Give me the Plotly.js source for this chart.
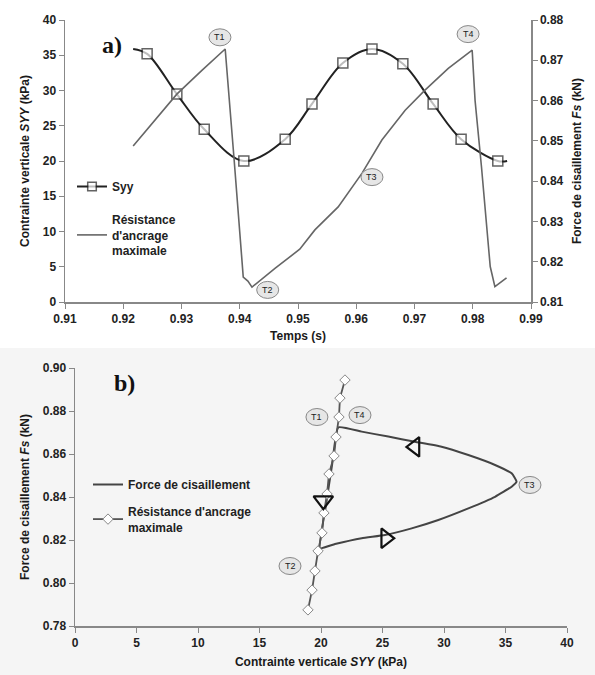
<!DOCTYPE html>
<html><head><meta charset="utf-8">
<script src="https://cdn.plot.ly/plotly-3.0.1.min.js"></script>
<style>html,body{margin:0;padding:0;background:#fff}#c{width:595px;height:675px}</style>
</head><body><div id="c"></div>
<script>
// ---- Chart a) : time series ----
const syyTime = [0.9217, 0.9241, 0.9292, 0.9339, 0.9407, 0.9478, 0.9524, 0.9577, 0.9627, 0.9680, 0.9732, 0.9780, 0.9843, 0.9859];
const syyValues = [35.9, 35.2, 29.5, 24.5, 20.0, 23.1, 28.1, 33.9, 35.9, 33.8, 28.1, 23.1, 20.0, 20.0];

const resTime = [0.9217, 0.9255, 0.9292, 0.9335, 0.9375, 0.9390, 0.9406, 0.9414, 0.9421, 0.9461, 0.9503, 0.9529, 0.9569, 0.9610, 0.9644, 0.9684, 0.9718, 0.9758, 0.9799, 0.9804, 0.9815, 0.9830, 0.9838, 0.9858];
const resValues = [0.8487, 0.8553, 0.8616, 0.8675, 0.8728, 0.8460, 0.8162, 0.8152, 0.8137, 0.8184, 0.8231, 0.8279, 0.8336, 0.8420, 0.8502, 0.8576, 0.8626, 0.8680, 0.8725, 0.8600, 0.8435, 0.8188, 0.8138, 0.8160];

// ---- Chart b) : Fs vs Syy ----
const loopSyy = [21.41, 20.90, 20.40, 19.92, 21.14, 23.31, 25.20, 27.37, 29.54, 31.98, 34.15, 35.50, 35.90, 35.50, 34.15, 31.98, 29.80, 27.64, 25.47, 23.31, 21.41];
const loopFs  = [0.8724, 0.8550, 0.8360, 0.8162, 0.8181, 0.8208, 0.8223, 0.8254, 0.8293, 0.8347, 0.8401, 0.8448, 0.8471, 0.8510, 0.8549, 0.8595, 0.8634, 0.8657, 0.8681, 0.8704, 0.8724];

const ancSyy = [21.95, 21.54, 21.46, 21.22, 21.06, 20.65, 20.49, 20.24, 20.08, 19.76, 19.51, 19.27, 18.94];
const ancFs  = [0.8944, 0.8860, 0.8772, 0.8679, 0.8591, 0.8507, 0.8414, 0.8326, 0.8233, 0.8149, 0.8056, 0.7967, 0.7875];

const arrowSyy = [27.64, 25.26, 20.19];
const arrowFs = [0.8633, 0.8208, 0.8383];
const arrowSymbols = ['triangle-left-open', 'triangle-right-open', 'triangle-down-open'];

const labelsA = [['T1', 0.9366, 0.8757], ['T2', 0.9448, 0.8130], ['T3', 0.9627, 0.8410], ['T4', 0.9792, 0.8765]];
const labelsB = [['T1', 19.67, 0.8772], ['T4', 23.17, 0.8781], ['T3', 36.99, 0.8456], ['T2', 17.48, 0.8079]];

// ---- Tick labels ----
const timeTicks = ['0.91', '0.92', '0.93', '0.94', '0.95', '0.96', '0.97', '0.98', '0.99'];
const syyTicksA = ['0', '5', '10', '15', '20', '25', '30', '35', '40'];
const fsTicksA = ['0.81', '0.82', '0.83', '0.84', '0.85', '0.86', '0.87', '0.88'];
const syyTicksB = ['0', '5', '10', '15', '20', '25', '30', '35', '40'];
const fsTicksB = ['0.78', '0.80', '0.82', '0.84', '0.86', '0.88', '0.90'];

const F = 'Liberation Sans';
const tickF = {family: F, size: 12, color: '#222'};
const titleF = {family: F, size: 12, color: '#1a1a1a'};
const bold = a => a.map(s => '<b>' + s + '</b>');
const nums = a => a.map(Number);

const syySizes = syyTime.map((_, i) => (i === 0 || i === syyTime.length - 1) ? 0 : 10);

const traces = [
  {x: syyTime, y: syyValues, xaxis: 'x', yaxis: 'y', type: 'scatter', mode: 'lines+markers',
   name: '<b>Syy</b>', legend: 'legend', legendgroup: 'a1',
   line: {color: '#222', width: 2, shape: 'spline', smoothing: 1},
   marker: {symbol: 'square', size: syySizes, color: '#fff', line: {color: '#222', width: 1.5}}},
  {x: resTime, y: resValues, xaxis: 'x', yaxis: 'y2', type: 'scatter', mode: 'lines',
   name: "<b>Résistance<br>d'ancrage<br>maximale</b>", legend: 'legend', legendgroup: 'a2',
   line: {color: '#666', width: 1.6}},
  {x: loopSyy, y: loopFs, xaxis: 'x3', yaxis: 'y3', type: 'scatter', mode: 'lines',
   name: '<b>Force de cisaillement</b>', legend: 'legend2', legendgroup: 'b1',
   line: {color: '#444', width: 2, shape: 'spline', smoothing: 0.4}},
  {x: ancSyy, y: ancFs, xaxis: 'x3', yaxis: 'y3', type: 'scatter', mode: 'lines+markers',
   name: "<b>Résistance d'ancrage<br>maximale</b>", legend: 'legend2', legendgroup: 'b2',
   line: {color: '#555', width: 1.8},
   marker: {symbol: 'diamond', size: 8, color: '#fff', line: {color: '#888', width: 1}}},
  {x: arrowSyy, y: arrowFs, xaxis: 'x3', yaxis: 'y3', type: 'scatter', mode: 'markers',
   showlegend: false, hoverinfo: 'skip',
   marker: {symbol: arrowSymbols, size: 17, color: '#111', line: {color: '#111', width: 2.2}}}
];

const shapes = [
  {type: 'rect', xref: 'paper', yref: 'paper', x0: 0, x1: 1, y0: 0, y1: 1 - 348/675,
   fillcolor: '#f5f5f5', line: {width: 0}, layer: 'below'}
];
const annotations = [
  {xref: 'paper', yref: 'paper', x: 100/595, y: 1 - 30/675, text: '<b>a)</b>', showarrow: false,
   font: {family: 'Liberation Serif, Times New Roman, serif', size: 24, color: '#111'}},
  {xref: 'paper', yref: 'paper', x: 112/595, y: 1 - 383/675, text: '<b>b)</b>', showarrow: false,
   font: {family: 'Liberation Serif, Times New Roman, serif', size: 24, color: '#111'}}
];
function addLabel(l, xr, yr) {
  shapes.push({type: 'circle', xref: xr, yref: yr, xsizemode: 'pixel', ysizemode: 'pixel',
    xanchor: l[1], yanchor: l[2], x0: -11, x1: 11, y0: -8.5, y1: 8.5,
    fillcolor: '#e6e6e6', line: {color: '#888', width: 1}, layer: 'above'});
  annotations.push({xref: xr, yref: yr, x: l[1], y: l[2], text: l[0], showarrow: false,
    font: {family: F, size: 9, color: '#222'}});
}
labelsA.forEach(l => addLabel(l, 'x', 'y2'));
labelsB.forEach(l => addLabel(l, 'x3', 'y3'));

const axBase = {showgrid: false, zeroline: false, showline: true, linecolor: '#888', linewidth: 1.5,
  ticks: 'outside', ticklen: 5, tickcolor: '#888', tickfont: tickF, automargin: false, tickmode: 'array'};

const layout = {
  width: 595, height: 675, margin: {l: 0, r: 0, t: 0, b: 0},
  paper_bgcolor: '#fff', plot_bgcolor: 'rgba(0,0,0,0)',
  font: {family: F},
  showlegend: true,
  xaxis: Object.assign({}, axBase, {domain: [65/595, 531/595], anchor: 'y', range: [0.91, 0.99],
    tickvals: nums(timeTicks), ticktext: bold(timeTicks),
    title: {text: '<b>Temps (s)</b>', font: titleF, standoff: 6}}),
  yaxis: Object.assign({}, axBase, {domain: [1 - 302/675, 1 - 20/675], anchor: 'x', range: [0, 40],
    tickvals: nums(syyTicksA), ticktext: bold(syyTicksA),
    title: {text: '<b>Contrainte verticale <i>SYY</i> (kPa)</b>', font: titleF, standoff: 10}}),
  yaxis2: Object.assign({}, axBase, {overlaying: 'y', side: 'right', anchor: 'x', range: [0.81, 0.88],
    tickvals: nums(fsTicksA), ticktext: bold(fsTicksA),
    title: {text: '<b>Force de cisaillement <i>Fs</i> (kN)</b>', font: titleF, standoff: 10}}),
  xaxis3: Object.assign({}, axBase, {domain: [75/595, 567/595], anchor: 'y3', range: [0, 40],
    tickvals: nums(syyTicksB), ticktext: bold(syyTicksB),
    title: {text: '<b>Contrainte verticale <i>SYY</i> (kPa)</b>', font: titleF, standoff: 8}}),
  yaxis3: Object.assign({}, axBase, {domain: [1 - 626/675, 1 - 368/675], anchor: 'x3', range: [0.78, 0.90],
    tickvals: nums(fsTicksB), ticktext: bold(fsTicksB),
    title: {text: '<b>Force de cisaillement <i>Fs</i> (kN)</b>', font: titleF, standoff: 10}}),
  legend: {x: 72/595, y: 1 - 172/675, xanchor: 'left', yanchor: 'top', bgcolor: 'rgba(0,0,0,0)',
    font: {family: F, size: 12, color: '#222'}, tracegroupgap: 14, traceorder: 'grouped', itemwidth: 30},
  legend2: {x: 88/595, y: 1 - 470/675, xanchor: 'left', yanchor: 'top', bgcolor: 'rgba(0,0,0,0)',
    font: {family: F, size: 12, color: '#222'}, tracegroupgap: 8, traceorder: 'grouped', itemwidth: 30},
  shapes: shapes, annotations: annotations
};

Plotly.newPlot('c', traces, layout, {staticPlot: true, displayModeBar: false});
</script></body></html>
